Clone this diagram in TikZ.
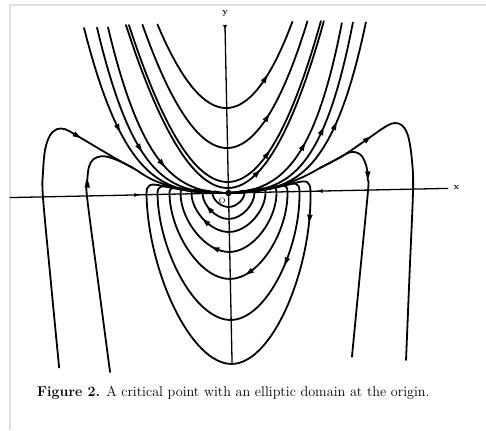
\documentclass[tikz,border=0pt]{standalone}
\tikzset{
  traj/.style={line width=1.8pt, line cap=round, line join=round},
  axisline/.style={line width=1.3pt},
  lbl/.style={inner sep=0pt, font=\fontsize{9}{10}\selectfont\bfseries},
}
\newcommand\flowtip[3]{\fill[shift={(#1,#2)}, rotate=#3] (4.2,0) -- (-3.6,2.8) -- (-3.6,-2.8) -- cycle;}
\newcommand\smalltip[3]{\fill[shift={(#1,#2)}, rotate=#3] (2.4,0) -- (-2.2,2) -- (-2.2,-2) -- cycle;}
\begin{document}
\begin{tikzpicture}[x=1pt,y=1pt]
\useasboundingbox (0,0) rectangle (486,430);
\fill[white] (0,0) rectangle (486,430);
\draw[black!12, line width=1.5pt] (10,0) -- (10,425) -- (486,425);
\begin{scope}[shift={(228.5,237)}, rotate=1.2]
  % axes
  \draw[axisline] (-218.6,0) -- (219.6,0);
  \draw[axisline] (0,-172) -- (0,168);
  \node[lbl] (ylab) at (0.5,180) {y};
  \node[lbl] (xlab) at (228,1) {x};
  \node[lbl, font=\fontsize{8}{9}\selectfont] (olab) at (-6.5,-7.5) {O};
  % upper parabolas
  \draw[traj] plot[domain=-0.675:0.675, samples=61] ({100*\x},{85+186.6*\x*\x});
  \draw[traj] plot[domain=-0.825:0.825, samples=61] ({100*\x},{45+183.7*\x*\x});
  \draw[traj] plot[domain=-0.96:0.96, samples=61] ({100*\x},{11+172.5*\x*\x});
  \draw[traj] plot[domain=-0.99:0.99, samples=61] ({100*\x},{5+168.4*\x*\x});
  % curves through the origin
  \draw[traj] plot[domain=-1.41:1.41, samples=91] ({100*\x},{15.26*\x*\x+34.83*\x*\x*\x*\x});
  \draw[traj] plot[domain=-1.28:1.28, samples=91] ({100*\x},{23.17*\x*\x+48.45*\x*\x*\x*\x});
  \draw[traj] plot[domain=-1.17:1.17, samples=91] ({100*\x},{47.2*\x*\x+55.2*\x*\x*\x*\x});
  % humps left
  \draw[traj] plot[smooth, tension=0.55] coordinates {(-173,-171) (-179.5,-85) (-185.6,0) (-185,25) (-182.5,47) (-177.5,61) (-170.5,67.3) (-162,67.2) (-150.3,60.5) (-114.7,38.4) (-95,27) (-75.2,14.6) (-50,5.5) (-25,1.2) (0,0)};
  \draw[traj] plot[smooth, tension=0.55] coordinates {(-122.2,-176.5) (-132,-88) (-141.6,0) (-140.9,16) (-139,29) (-134.5,36.5) (-127,39.3) (-119.7,38.6) (-108,34) (-95,27)};
  % humps right
  \draw[traj] plot[smooth, tension=0.55] coordinates {(0,0) (25,1.2) (50,5.5) (74.8,14.4) (92,23.1) (115.3,35) (140,51) (155,61) (164,65.8) (171.5,66) (177.5,61) (181.5,50) (184,30) (184.6,0) (179.3,-85) (174,-170.7)};
  \draw[traj] plot[smooth, tension=0.55] coordinates {(92,23.1) (105,29.5) (115,34.8) (122.4,38.2) (129,37.8) (134.5,33.5) (138.6,23) (139.6,10) (139.6,0) (129.8,-83) (120,-166.4)};
  % elliptic loops
  \foreach \a/\d/\h in {82/171/10, 71/127/8, 59/86/6.5, 48/59/5, 37/39/4, 26/26/3, 16/14/2} {
    \draw[traj] (0,0) .. controls ({-0.8*\a},0) and ({-\a},{2.25*\h}) .. ({-\a},0)
      .. controls ({-\a},{-0.45*\d}) and ({-0.5*\a},{-\d}) .. (0,{-\d})
      .. controls ({0.5*\a},{-\d}) and (\a,{-0.45*\d}) .. (\a,0)
      .. controls (\a,{2.25*\h}) and ({0.8*\a},0) .. (0,0);
  }
  \fill (0,0) circle (3.2);
  % arrowheads
  \flowtip{39}{113.4}{55.5}
  \flowtip{40}{74.4}{55.8}
  \flowtip{39.3}{37.6}{53.6}
  \flowtip{29}{19.2}{44.3}
  \flowtip{75.5}{44.8}{59}
  \flowtip{94.7}{59.8}{64.4}
  \flowtip{107.8}{64.7}{64.3}
  \flowtip{-109}{67.3}{-64.9}
  \flowtip{-88}{47}{-60}
  \flowtip{-66}{31.1}{-51.5}
  \flowtip{-150.3}{60.5}{-32}
  \flowtip{-140.8}{12}{85}
  \flowtip{140}{51}{36}
  \flowtip{139.7}{15}{-90}
  \smalltip{-92}{0}{0}
  \smalltip{92}{0}{180}
  \smalltip{0}{166}{-90}
  \flowtip{80.5}{-27}{-97}
  \flowtip{56.2}{-69.4}{-113}
  \flowtip{19.2}{-79.7}{-147}
  \flowtip{-14.2}{-55.4}{158}
  \flowtip{-19.3}{-15.8}{130}
  \flowtip{-23.3}{-28.3}{138}
\end{scope}
\node[anchor=base west, inner sep=0pt] (caption) at (37,33)
  {\fontsize{14.2}{16}\selectfont\textbf{Figure 2.} A critical point with an elliptic domain at the origin.};
\end{tikzpicture}
\end{document}
